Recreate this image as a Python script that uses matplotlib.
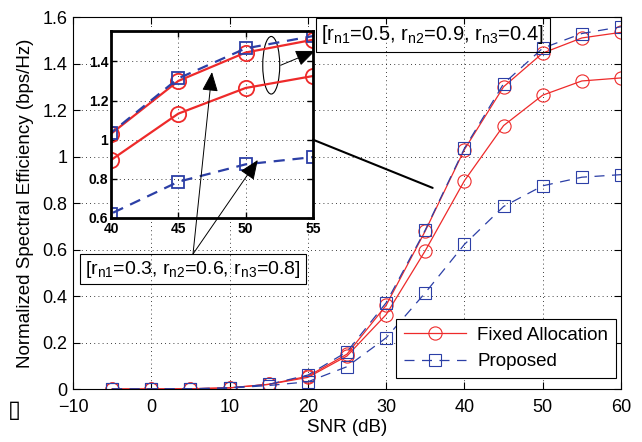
import matplotlib
matplotlib.use('Agg')
import matplotlib.pyplot as plt
from matplotlib.patches import Ellipse, ConnectionPatch
from matplotlib.ticker import FormatStrFormatter

plt.rcParams['font.family'] = ['Liberation Sans', 'DejaVu Sans']
plt.rcParams['mathtext.default'] = 'regular'
plt.rcParams['xtick.direction'] = 'in'
plt.rcParams['ytick.direction'] = 'in'

# SNR points (dB)
snr = [-5, 0, 5, 10, 15, 20, 25, 30, 35, 40, 45, 50, 55, 60]
# [r_n1=0.5, r_n2=0.9, r_n3=0.4]
fixed_a = [0, 0, 0.001, 0.005, 0.02, 0.055, 0.15, 0.36, 0.68, 1.03, 1.30, 1.445, 1.51, 1.534]
prop_a = [0, 0, 0.001, 0.005, 0.02, 0.06, 0.16, 0.371, 0.684, 1.035, 1.313, 1.466, 1.529, 1.558]
# [r_n1=0.3, r_n2=0.6, r_n3=0.8]
fixed_b = [0, 0, 0.001, 0.005, 0.02, 0.05, 0.142, 0.32, 0.595, 0.896, 1.133, 1.264, 1.325, 1.338]
prop_b = [0, 0, 0.001, 0.004, 0.015, 0.031, 0.096, 0.22, 0.414, 0.622, 0.785, 0.874, 0.911, 0.922]

label_a = '[r$_{n1}$=0.5, r$_{n2}$=0.9, r$_{n3}$=0.4]'
label_b = '[r$_{n1}$=0.3, r$_{n2}$=0.6, r$_{n3}$=0.8]'

red = '#ee2a2a'
blue = '#2c3fa6'

fig = plt.figure(figsize=(6.42, 4.42), dpi=100)
ax = fig.add_axes([0.1137, 0.1199, 0.8536, 0.8416])

for y, lab in [(fixed_a, 'Fixed Allocation'), (fixed_b, None)]:
    ax.plot(snr, y, '-', color=red, lw=0.9, marker='o', ms=9.5, mfc='none',
            mec=red, mew=0.8, label=lab)
for y, lab in [(prop_a, 'Proposed'), (prop_b, None)]:
    ax.plot(snr, y, '--', color=blue, lw=0.9, dashes=(8, 6), marker='s', ms=8,
            mfc='none', mec=blue, mew=0.8, label=lab)

ax.set_xlim(-10, 60)
ax.set_ylim(0, 1.6)
ax.set_xticks(range(-10, 61, 10))
ax.set_yticks([0, 0.2, 0.4, 0.6, 0.8, 1, 1.2, 1.4, 1.6])
ax.yaxis.set_major_formatter(FormatStrFormatter('%g'))
ax.tick_params(labelsize=13, top=True, right=True, length=5, width=0.8)
ax.tick_params(axis='x', pad=7)
ax.tick_params(axis='y', pad=4)
ax.grid(True, linestyle=(0, (1, 4)), color='k', lw=0.6)
ax.set_xlabel('SNR (dB)', fontsize=13.5, labelpad=2)
ax.set_ylabel('Normalized Spectral Efficiency (bps/Hz)', fontsize=13.5, labelpad=6)
for s in ax.spines.values():
    s.set_linewidth(0.8)

leg = ax.legend(loc='lower right', bbox_to_anchor=(0.99, 0.03), fontsize=13.5,
                handlelength=3.3, fancybox=False, edgecolor='k', framealpha=1,
                borderpad=0.4, labelspacing=0.5, handletextpad=0.6, borderaxespad=0)
leg.get_frame().set_linewidth(0.8)

ax.text(35.94, 1.523, label_a, fontsize=14.5, ha='center', va='center',
        bbox=dict(boxstyle='square,pad=0.28', fc='none', ec='k', lw=0.8))

# inset
ins = fig.add_axes([0.1729, 0.5068, 0.3146, 0.4231])
ins.plot(snr, fixed_a, '-', color=red, lw=1.6, marker='o', ms=11, mfc='none', mec=red, mew=1.3)
ins.plot(snr, fixed_b, '-', color=red, lw=1.6, marker='o', ms=11, mfc='none', mec=red, mew=1.3)
ins.plot(snr, prop_a, '--', color=blue, lw=1.6, dashes=(5, 3.5), marker='s', ms=8,
         mfc='none', mec=blue, mew=1.3)
ins.plot(snr, prop_b, '--', color=blue, lw=1.6, dashes=(5, 3.5), marker='s', ms=8,
         mfc='none', mec=blue, mew=1.3)
ins.set_xlim(40, 55)
ins.set_ylim(0.6, 1.555)
ins.set_xticks([40, 45, 50, 55])
ins.set_yticks([0.6, 0.8, 1, 1.2, 1.4])
ins.yaxis.set_major_formatter(FormatStrFormatter('%g'))
ins.tick_params(labelsize=10, top=True, right=True, length=4, width=1, pad=2)
ins.tick_params(axis='x', pad=3)
for t in ins.get_xticklabels() + ins.get_yticklabels():
    t.set_fontweight('bold')
ins.grid(True, linestyle=(0, (1, 4)), color='k', lw=0.6)
for s in ins.spines.values():
    s.set_linewidth(2)

ins.add_patch(Ellipse((51.9, 1.38), 1.26, 0.294, fill=False, ec='k', lw=0.8))
ins.annotate('', xy=(55.15, 1.453), xytext=(52.6, 1.38), annotation_clip=False,
             arrowprops=dict(arrowstyle='-|>,head_length=0.6,head_width=0.25',
                             color='k', lw=0.7, mutation_scale=20, shrinkA=0, shrinkB=0))

# lower label with arrows into the inset
ins.text(46.09, 0.339, label_b, fontsize=14, ha='center', va='center', clip_on=False,
         bbox=dict(boxstyle='square,pad=0.25', fc='none', ec='k', lw=0.8))
for head in [(47.5, 1.345), (50.9, 0.896)]:
    ins.annotate('', xy=head, xytext=(46.09, 0.416), annotation_clip=False,
                 arrowprops=dict(arrowstyle='-|>,head_length=0.6,head_width=0.25',
                                 color='k', lw=0.7, mutation_scale=20, shrinkA=0, shrinkB=0))

con = ConnectionPatch(xyA=(55, 1.0), coordsA=ins.transData, xyB=(35.94, 0.865),
                      coordsB=ax.transData, color='k', lw=1.5)
fig.add_artist(con)

fig.text(0.012, 0.072, '\u25af', fontsize=17, family='DejaVu Sans', ha='left', va='center')

fig.savefig('out.png', dpi=100)
